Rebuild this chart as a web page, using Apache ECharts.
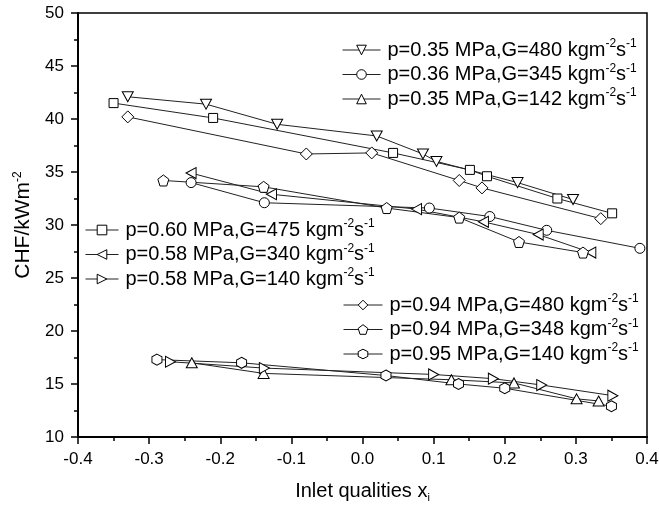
<!DOCTYPE html>
<html>
<head>
<meta charset="utf-8">
<title>CHF vs inlet quality</title>
<script src="https://cdn.jsdelivr.net/npm/echarts@6/dist/echarts.min.js"></script>
<style>
  html, body { margin: 0; padding: 0; background: #fff; }
  #chart { width: 659px; height: 508px; }
</style>
</head>
<body>
<div id="chart"></div>
<script>
// inlet quality x_i and CHF (kW/m2)
var x_035_480 = [-0.330, -0.220, -0.120, 0.020, 0.085, 0.104, 0.218, 0.296];
var chf_035_480 = [42.1, 41.4, 39.5, 38.4, 36.7, 36.0, 34.0, 32.4];

var x_036_345 = [-0.241, -0.138, 0.094, 0.179, 0.259, 0.390];
var chf_036_345 = [34.0, 32.1, 31.6, 30.8, 29.5, 27.8];

var x_035_142 = [-0.240, -0.139, 0.125, 0.213, 0.301, 0.332];
var chf_035_142 = [17.0, 16.0, 15.4, 15.1, 13.6, 13.4];

var x_060_475 = [-0.350, -0.210, 0.043, 0.151, 0.175, 0.274, 0.351];
var chf_060_475 = [41.5, 40.1, 36.8, 35.2, 34.6, 32.5, 31.1];

var x_058_340 = [-0.241, -0.128, 0.076, 0.170, 0.247, 0.321];
var chf_058_340 = [34.9, 32.9, 31.5, 30.3, 29.1, 27.4];

var x_058_140 = [-0.270, -0.138, 0.100, 0.184, 0.252, 0.352];
var chf_058_140 = [17.1, 16.5, 15.9, 15.5, 14.9, 13.9];

var x_094_480 = [-0.330, -0.079, 0.013, 0.136, 0.168, 0.335];
var chf_094_480 = [40.2, 36.7, 36.8, 34.2, 33.5, 30.6];

var x_094_348 = [-0.280, -0.139, 0.034, 0.136, 0.220, 0.310];
var chf_094_348 = [34.2, 33.6, 31.6, 30.7, 28.4, 27.4];

var x_095_140 = [-0.289, -0.170, 0.033, 0.135, 0.200, 0.350];
var chf_095_140 = [17.3, 17.0, 15.8, 15.0, 14.6, 12.9];

var xTicks = [-0.4, -0.3, -0.2, -0.1, 0.0, 0.1, 0.2, 0.3, 0.4];
var yTicks = [10, 15, 20, 25, 30, 35, 40, 45, 50];

var pentagon = 'path://M50 0 L97.6 34.5 L79.4 90.5 L20.6 90.5 L2.4 34.5 Z';
var hexagon = 'path://M50 0 L93.3 25 L93.3 75 L50 100 L6.7 75 L6.7 25 Z';

function pairs(xs, ys) {
  var out = [];
  for (var i = 0; i < xs.length; i++) out.push([xs[i], ys[i]]);
  return out;
}

function label(p, g) {
  return 'p=' + p + ' MPa,G=' + g + ' kgm-2s-1';
}

function mkSeries(p, g, xs, ys, symbol, size, rot) {
  return {
    name: label(p, g),
    type: 'line',
    data: pairs(xs, ys),
    symbol: symbol,
    symbolSize: size,
    symbolRotate: rot || 0,
    showAllSymbol: true,
    lineStyle: { color: '#222', width: 1 },
    itemStyle: { color: '#fff', borderColor: '#000', borderWidth: 1 },
    emphasis: { disabled: true },
    z: 3
  };
}

var series = [
  mkSeries('0.35', 480, x_035_480, chf_035_480, 'triangle', [11, 10], 180),
  mkSeries('0.36', 345, x_036_345, chf_036_345, 'circle', 10),
  mkSeries('0.35', 142, x_035_142, chf_035_142, 'triangle', [11, 10], 0),
  mkSeries('0.60', 475, x_060_475, chf_060_475, 'rect', 9),
  mkSeries('0.58', 340, x_058_340, chf_058_340, 'triangle', [11, 10], 90),
  mkSeries('0.58', 140, x_058_140, chf_058_140, 'triangle', [11, 10], -90),
  mkSeries('0.94', 480, x_094_480, chf_094_480, 'diamond', 12),
  mkSeries('0.94', 348, x_094_348, chf_094_348, pentagon, 11),
  mkSeries('0.95', 140, x_095_140, chf_095_140, hexagon, [10, 11])
];

var richText = {
  t: { fontSize: 20, lineHeight: 24, color: '#000', fontFamily: 'Liberation Sans' },
  s: { fontSize: 12, lineHeight: 12, verticalAlign: 'top', color: '#000', fontFamily: 'Liberation Sans' }
};

function legendFmt(name) {
  var base = name.replace(' kgm-2s-1', ' kgm');
  return '{t|' + base + '}{s|-2}{t|s}{s|-1}';
}

function mkLegend(names, left, top, iw) {
  return {
    data: names,
    orient: 'vertical',
    left: left,
    top: top,
    itemWidth: iw,
    itemHeight: 12,
    itemGap: 2.5,
    selectedMode: false,
    formatter: legendFmt,
    itemStyle: { color: '#fff', borderColor: '#000', borderWidth: 1 },
    lineStyle: { color: '#222', width: 1 },
    textStyle: { rich: richText, padding: [0, 0, 0, 2] }
  };
}

var chart = echarts.init(document.getElementById('chart'));
chart.setOption({
  backgroundColor: '#fff',
  animation: false,
  textStyle: { fontFamily: 'Liberation Sans' },
  grid: {
    left: 78, right: 12, top: 13, bottom: 71,
    show: true, borderColor: '#000', borderWidth: 1.5,
    outerBoundsMode: 'none'
  },
  legend: [
    mkLegend([series[0].name, series[1].name, series[2].name], 337, 33, 38),
    mkLegend([series[3].name, series[4].name, series[5].name], 80, 213, 33),
    mkLegend([series[6].name, series[7].name, series[8].name], 338, 288, 39)
  ],
  xAxis: {
    type: 'value',
    min: xTicks[0], max: xTicks[xTicks.length - 1], interval: 0.1,
    name: '{t|Inlet qualities x}{b|i}',
    nameLocation: 'middle',
    nameGap: 42,
    nameTextStyle: {
      rich: {
        t: { fontSize: 20, lineHeight: 24, color: '#000' },
        b: { fontSize: 11, lineHeight: 11, verticalAlign: 'bottom', color: '#000' }
      }
    },
    axisLine: { onZero: false, lineStyle: { color: '#000', width: 2 } },
    axisTick: { inside: false, length: 7, lineStyle: { color: '#000', width: 1.5 } },
    minorTick: { show: true, splitNumber: 2, length: 4, lineStyle: { color: '#000', width: 1.5 } },
    splitLine: { show: false },
    axisLabel: {
      color: '#000', fontSize: 17, margin: 14,
      formatter: function (v) { return v.toFixed(1); }
    }
  },
  yAxis: {
    type: 'value',
    min: yTicks[0], max: yTicks[yTicks.length - 1], interval: 5,
    name: '{t|CHF/kWm}{s|-2}',
    nameLocation: 'middle',
    nameGap: 40,
    nameRotate: 90,
    nameTextStyle: {
      rich: {
        t: { fontSize: 21, lineHeight: 24, color: '#000' },
        s: { fontSize: 12, lineHeight: 12, verticalAlign: 'top', color: '#000' }
      }
    },
    axisLine: { onZero: false, lineStyle: { color: '#000', width: 2 } },
    axisTick: { inside: false, length: 7, lineStyle: { color: '#000', width: 1.5 } },
    minorTick: { show: true, splitNumber: 2, length: 4, lineStyle: { color: '#000', width: 1.5 } },
    splitLine: { show: false },
    axisLabel: { color: '#000', fontSize: 17, margin: 14 }
  },
  series: series
});
</script>
</body>
</html>
